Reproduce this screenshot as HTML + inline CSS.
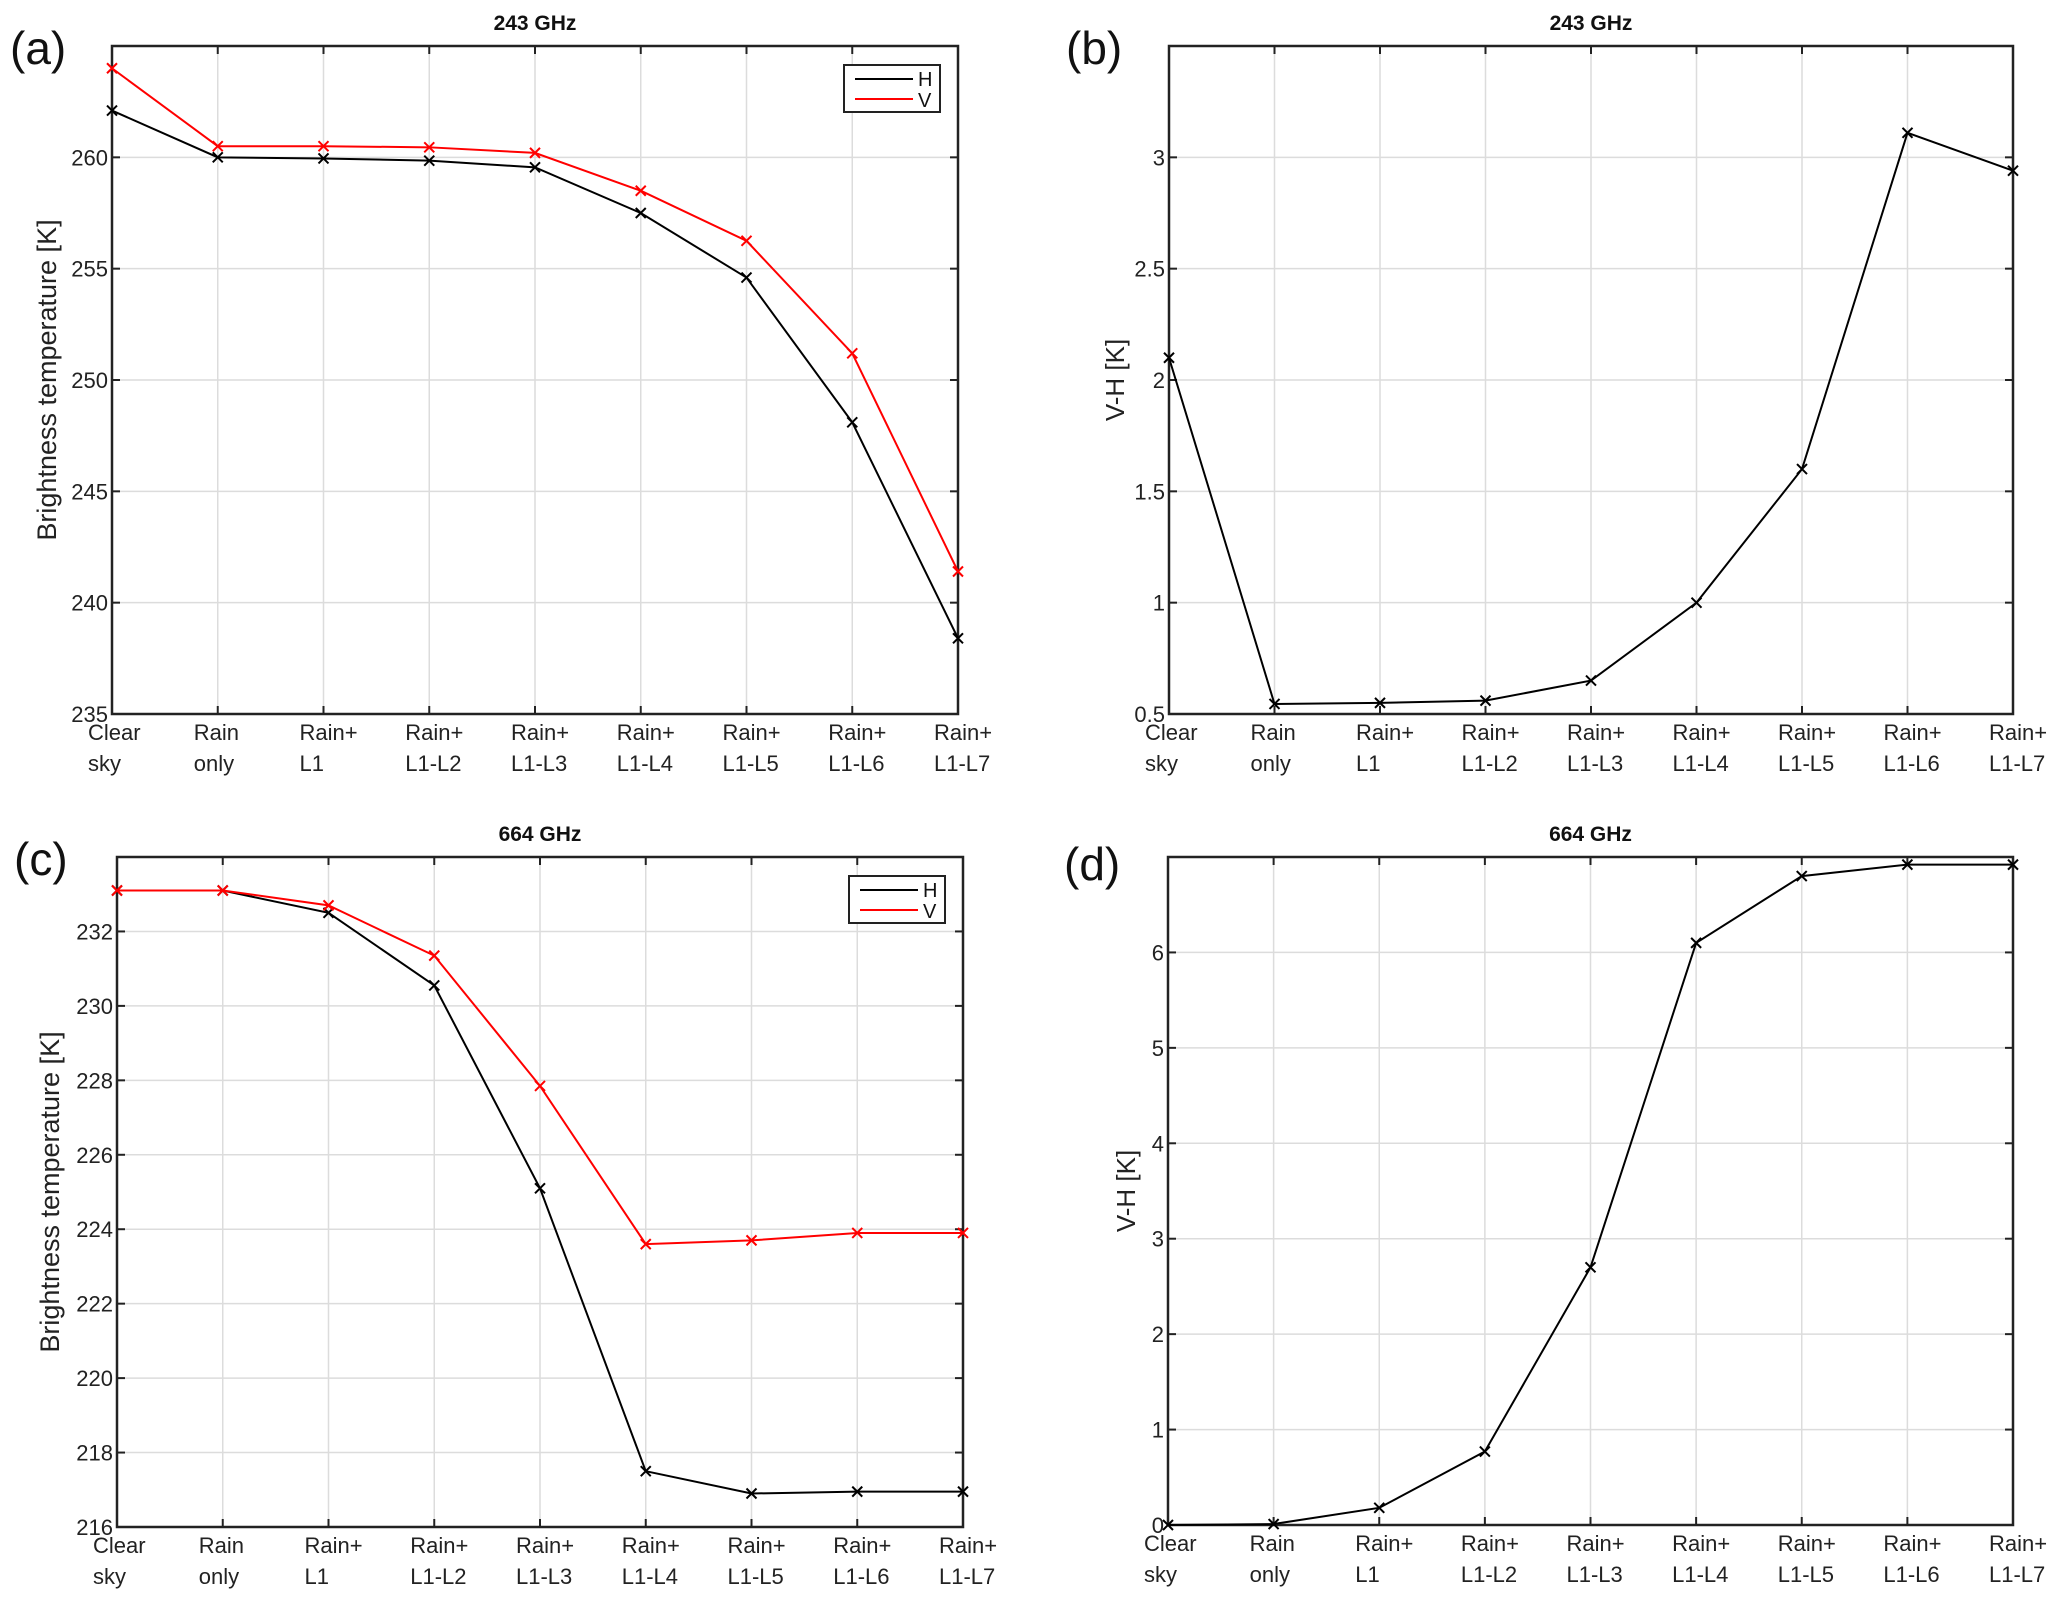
<!DOCTYPE html>
<html><head><meta charset="utf-8">
<style>
html,body{margin:0;padding:0;background:#fff;}
svg{display:block;font-family:"Liberation Sans",Arial,sans-serif;}
</style></head>
<body>
<svg id="fig" width="2067" height="1604" viewBox="0 0 2067 1604" xmlns="http://www.w3.org/2000/svg"></svg>
<script>
const categories = [["Clear","sky"],["Rain","only"],["Rain+","L1"],["Rain+","L1-L2"],["Rain+","L1-L3"],["Rain+","L1-L4"],["Rain+","L1-L5"],["Rain+","L1-L6"],["Rain+","L1-L7"]];
const a_H = [262.1, 260.0, 259.95, 259.85, 259.55, 257.5, 254.6, 248.1, 238.4];
const a_V = [264.0, 260.5, 260.5, 260.45, 260.2, 258.5, 256.25, 251.2, 241.4];
const b_VH = [2.1, 0.545, 0.55, 0.56, 0.65, 1.0, 1.6, 3.11, 2.94];
const c_H = [233.1, 233.1, 232.5, 230.55, 225.1, 217.5, 216.9, 216.95, 216.95];
const c_V = [233.1, 233.1, 232.7, 231.35, 227.85, 223.6, 223.7, 223.9, 223.9];
const d_VH = [0, 0.01, 0.18, 0.77, 2.7, 6.1, 6.8, 6.92, 6.92];
const a_ticks = [235, 240, 245, 250, 255, 260];
const b_ticks = [0.5, 1, 1.5, 2, 2.5, 3];
const c_ticks = [216, 218, 220, 222, 224, 226, 228, 230, 232];
const d_ticks = [0, 1, 2, 3, 4, 5, 6];

const NS = "http://www.w3.org/2000/svg";
const svg = document.getElementById('fig');
function mk(tag, attrs, parent, text){
  const e = document.createElementNS(NS, tag);
  for (const k in attrs) e.setAttribute(k, attrs[k]);
  if (text !== undefined) e.textContent = text;
  (parent||svg).appendChild(e);
  return e;
}
function panel(opt){
  const g = mk('g', {});
  
  
  const L=opt.x0, R=opt.x1, T=opt.y0, B=opt.y1;
  const n = categories.length;
  const xs = i => L + (R-L)*i/(n-1);
  const ys = v => B - (B-T)*(v-opt.ymin)/(opt.ymax-opt.ymin);
  for (let i=0;i<n;i++){
    const l = mk('line',{x1:xs(i),x2:xs(i),y1:T,y2:B,stroke:'#dcdcdc','stroke-width':1.5},g);
    
    
  }
  opt.ticks.forEach(t=>{
    const l = mk('line',{x1:L,x2:R,y1:ys(t),y2:ys(t),stroke:'#dcdcdc','stroke-width':1.5},g);
    
    
    mk('line',{x1:L,x2:L+8,y1:ys(t),y2:ys(t),stroke:'#222','stroke-width':2},g);
    mk('line',{x1:R-8,x2:R,y1:ys(t),y2:ys(t),stroke:'#222','stroke-width':2},g);
    const tx = mk('text',{x:L-4,y:ys(t)+8,'text-anchor':'end','font-size':22,fill:'#222'},g,String(t));
    
    
  });
  for (let i=0;i<n;i++){
    mk('line',{x1:xs(i),x2:xs(i),y1:B,y2:B-8,stroke:'#222','stroke-width':2},g);
    mk('line',{x1:xs(i),x2:xs(i),y1:T,y2:T+8,stroke:'#222','stroke-width':2},g);
    const tx = mk('text',{x:xs(i)-24,y:B+26,'font-size':22,fill:'#222'},g);
    
    
    mk('tspan',{x:xs(i)-24},tx,categories[i][0]);
    mk('tspan',{x:xs(i)-24,dy:31},tx,categories[i][1]);
  }
  const box = mk('rect',{x:L,y:T,width:R-L,height:B-T,fill:'none',stroke:'#222','stroke-width':2.5},g);
  
  
  const ti = mk('text',{x:(L+R)/2,y:T-16,'text-anchor':'middle','font-size':21,'font-weight':'bold',fill:'#111'},g,opt.title);
  
  
  const pl = mk('text',{x:opt.lx,y:opt.ly,'font-size':46,fill:'#111'},g,opt.label);
  
  
  const yl = mk('text',{x:0,y:0,'text-anchor':'middle','font-size':opt.ylfs,fill:'#222',transform:`translate(${opt.ylx},${(T+B)/2}) rotate(-90)`},g,opt.ylabel);
  
  
  opt.series.forEach(s=>{
    const pts = s.data.map((v,i)=>xs(i)+','+ys(v)).join(' ');
    const pline = mk('polyline',{points:pts,fill:'none',stroke:s.color,'stroke-width':2},g);
    
    
    s.data.forEach((v,i)=>{
      const x=xs(i), y=ys(v), d=5;
      const m = mk('path',{d:`M${x-d},${y-d}L${x+d},${y+d}M${x-d},${y+d}L${x+d},${y-d}`,stroke:s.color,'stroke-width':2},g);
      
      
    });
  });
  if (opt.legend){
    const lg = mk('g',{},g);
    
    
    const lx=R-114, ly=T+19;
    mk('rect',{x:lx,y:ly,width:96,height:47,fill:'#fff',stroke:'#222','stroke-width':2},lg);
    const e1 = mk('line',{x1:lx+11,x2:lx+69,y1:ly+14,y2:ly+14,stroke:'#000','stroke-width':2},lg);
    
    
    mk('text',{x:lx+74,y:ly+21,'font-size':20,fill:'#111'},lg,'H');
    const e2 = mk('line',{x1:lx+11,x2:lx+69,y1:ly+34,y2:ly+34,stroke:'#f00','stroke-width':2},lg);
    
    
    mk('text',{x:lx+74,y:ly+42,'font-size':20,fill:'#111'},lg,'V');
  }
}
panel({name:'panel-a',x0:112,x1:958,y0:46,y1:714,ymin:235,ymax:265,ticks:a_ticks,title:'243 GHz',label:'(a)',lx:10,ly:64,ylabel:'Brightness temperature [K]',ylx:56,ylfs:27,legend:true,
  series:[{name:'h',color:'#000',data:a_H},{name:'v',color:'#f00',data:a_V}]});
panel({name:'panel-b',x0:1169,x1:2013,y0:46,y1:714,ymin:0.5,ymax:3.5,ticks:b_ticks,title:'243 GHz',label:'(b)',lx:1066,ly:64,ylabel:'V-H [K]',ylx:1124,ylfs:26,legend:false,
  series:[{name:'vh',color:'#000',data:b_VH}]});
panel({name:'panel-c',x0:117,x1:963,y0:857,y1:1527,ymin:216,ymax:234,ticks:c_ticks,title:'664 GHz',label:'(c)',lx:14,ly:875,ylabel:'Brightness temperature [K]',ylx:59,ylfs:27,legend:true,
  series:[{name:'h',color:'#000',data:c_H},{name:'v',color:'#f00',data:c_V}]});
panel({name:'panel-d',x0:1168,x1:2013,y0:857,y1:1525,ymin:0,ymax:7,ticks:d_ticks,title:'664 GHz',label:'(d)',lx:1064,ly:880,ylabel:'V-H [K]',ylx:1135,ylfs:26,legend:false,
  series:[{name:'vh',color:'#000',data:d_VH}]});
</script>
</body></html>
